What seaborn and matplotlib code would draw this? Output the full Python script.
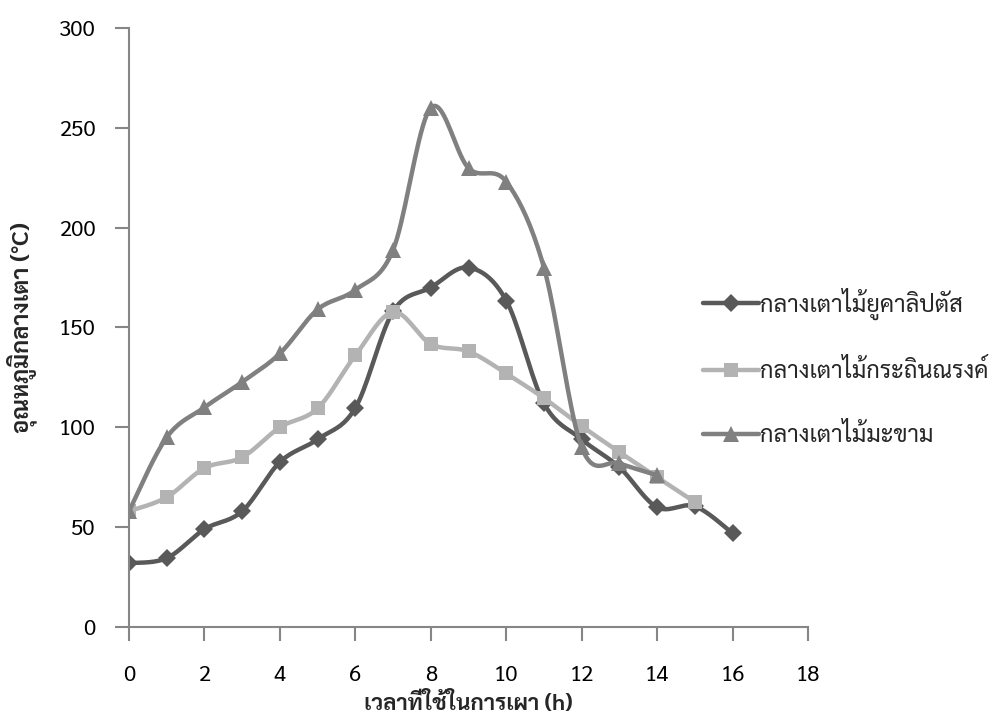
import numpy as np
import pandas as pd
import matplotlib
matplotlib.use("Agg")
import matplotlib.pyplot as plt
import seaborn as sns
from matplotlib.lines import Line2D

hours_euc = list(range(17))
eucalyptus = [32, 34.5, 49, 58, 82.6, 94, 109.7, 158, 170, 180, 163.5, 112, 94, 80, 60, 60.5, 47]
hours_kra = list(range(16))
krathin = [58, 65, 79.6, 85, 100, 109.5, 136, 157.7, 141.7, 138, 127, 114.6, 100.6, 87.6, 75, 62.6]
hours_mak = list(range(15))
makham = [58, 95, 110, 122.7, 137, 159, 168.8, 188.8, 260, 229.8, 223, 180, 90, 82, 76]

labels = ["กลางเตาไม้ยูคาลิปตัส", "กลางเตาไม้กระถินณรงค์", "กลางเตาไม้มะขาม"]
x_ticks = list(range(0, 19, 2))
y_ticks = list(range(0, 301, 50))
x_label = "เวลาที่ใช้ในการเผา (h)"
y_label = "อุณหภูมิกลางเตา (°C)"

sns.set_style("white")
plt.rcParams["font.family"] = ["Sarabun", "DejaVu Sans"]


def smooth(xs, ys, n=20):
    xs = np.asarray(xs, float)
    ys = np.asarray(ys, float)
    P = np.column_stack([xs, ys])
    out = [P[0]]
    for i in range(len(P) - 1):
        p0 = P[i - 1] if i > 0 else P[i]
        p1 = P[i]
        p2 = P[i + 1]
        p3 = P[i + 2] if i + 2 < len(P) else P[i + 1]
        c1 = p1 + (p2 - p0) / 6
        c2 = p2 - (p3 - p1) / 6
        t = np.linspace(0, 1, n)[1:, None]
        seg = ((1 - t) ** 3) * p1 + 3 * ((1 - t) ** 2) * t * c1 + 3 * (1 - t) * t ** 2 * c2 + t ** 3 * p2
        out.extend(seg)
    out = np.array(out)
    return out[:, 0], out[:, 1]


fig = plt.figure(figsize=(10, 7.15), dpi=100)
ax = fig.add_axes([0.129, 0.123, 0.679, 0.838])

series = [
    (hours_euc, eucalyptus, "#595959", "D", 9),
    (hours_kra, krathin, "#b3b3b3", "s", 10),
    (hours_mak, makham, "#808080", "^", 11),
]
handles = []
for (xs, ys, col, mk, ms), lab in zip(series, labels):
    sx, sy = smooth(xs, ys)
    sns.lineplot(x=sx, y=sy, sort=False, ax=ax, color=col, linewidth=3.2, estimator=None)
    ax.plot(xs, ys, linestyle="none", marker=mk, color=col, markersize=ms, markeredgewidth=0)
    handles.append(Line2D([0], [0], color=col, linewidth=3.2, marker=mk, markersize=ms, markeredgewidth=0))

ax.set_xlim(0, 18)
ax.set_ylim(0, 300)
ax.set_xticks(x_ticks)
ax.set_yticks(y_ticks)
ax.tick_params(axis="both", direction="out", length=10, width=1.5, color="#868686",
               labelsize=16, labelcolor="#000000", left=True, bottom=True)
ax.tick_params(axis="x", pad=17)
ax.tick_params(axis="y", pad=14)
for s in ["top", "right"]:
    ax.spines[s].set_visible(False)
for s in ["left", "bottom"]:
    ax.spines[s].set_color("#868686")
    ax.spines[s].set_linewidth(1.5)
ax.set_xlabel(x_label, fontsize=16, fontweight="bold", labelpad=5)
ax.set_ylabel(y_label, fontsize=17, fontweight="bold", labelpad=16)

fig.legend(handles, labels, loc="upper left", bbox_to_anchor=(0.694, 0.611), frameon=False,
           fontsize=17, handlelength=2.35, labelspacing=1.68, handletextpad=0.05,
           borderaxespad=0)

fig.savefig("out.png", dpi=100)
